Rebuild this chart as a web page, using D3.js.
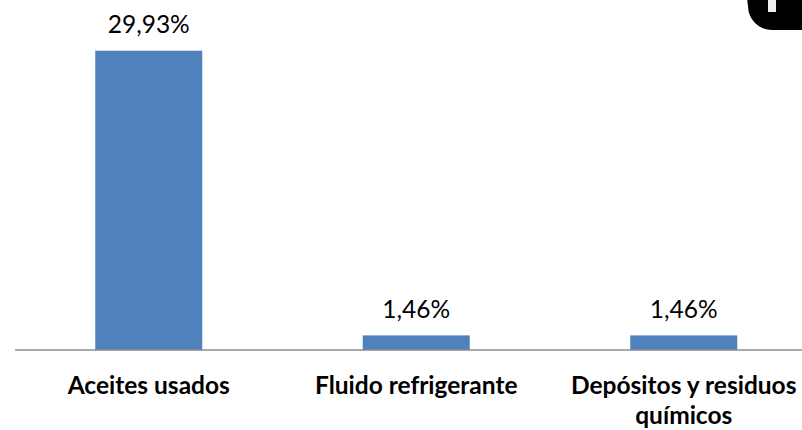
<!DOCTYPE html>
<html><head><meta charset="utf-8">
<script src="https://cdn.jsdelivr.net/npm/d3@7/dist/d3.min.js"></script>
<style>html,body{margin:0;padding:0;background:#fff}svg{display:block}</style>
</head><body><svg id="c" width="802" height="430"></svg>
<script>
const categories = [["Aceites usados"],["Fluido refrigerante"],["Depósitos y residuos","químicos"]];
const values = [29.93,1.46,1.46];
const labels = ["29,93%","1,46%","1,46%"];
const font = "Lato, Carlito, Calibri, sans-serif";
const svg = d3.select("#c");
const x = d3.scaleBand().domain(d3.range(categories.length)).range([15,817.5]).paddingInner(0.6).paddingOuter(0.3);
const y = d3.scaleLinear().domain([0,35]).range([350,0]);
svg.selectAll("rect.bar").data(values).join("rect").attr("class","bar")
  .attr("x",(d,i)=>x(i)).attr("width",x.bandwidth())
  .attr("y",d=>y(d)).attr("height",d=>y(0)-y(d)).attr("fill","#4f81bd");
svg.append("line").attr("x1",15).attr("x2",802).attr("y1",350).attr("y2",350).attr("stroke","#8c8c8c").attr("stroke-width",1.6);
svg.selectAll("text.v").data(values).join("text").attr("class","v")
  .attr("x",(d,i)=>x(i)+x.bandwidth()/2).attr("y",d=>y(d)-17.5)
  .attr("text-anchor","middle").attr("font-family",font).attr("font-size",24.5).attr("fill","#000")
  .text((d,i)=>labels[i]);
categories.forEach((lines,i)=>{
  lines.forEach((t,j)=>{
    svg.append("text").attr("x",x(i)+x.bandwidth()/2).attr("y",393.5+j*30.5)
      .attr("text-anchor","middle").attr("font-family",font).attr("font-weight",700)
      .attr("font-size",24.5).attr("fill","#000").text(t);
  });
});
// corner icon
svg.append("path").attr("d","M747,-2 H804 V30 H772 A24,24 0 0 1 748,6 Z").attr("fill","#000");
svg.append("rect").attr("x",768).attr("y",-1).attr("width",8).attr("height",13).attr("fill","#eee");
</script></body></html>
